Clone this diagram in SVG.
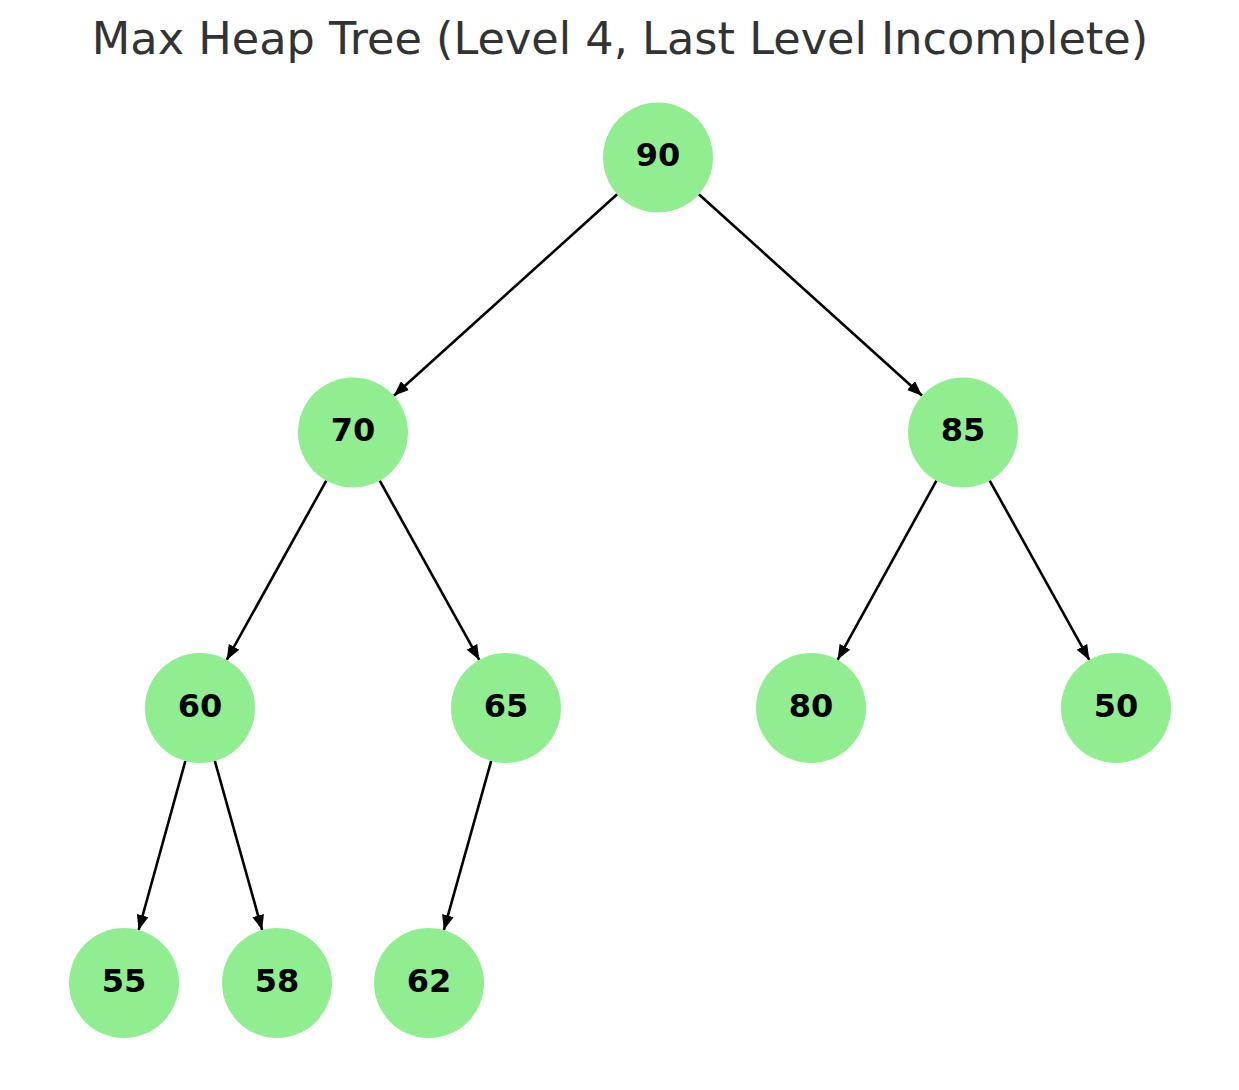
<svg xmlns="http://www.w3.org/2000/svg" width="1239" height="1090" viewBox="0 0 1239 1090">
<style>
.node circle{fill:#90EE90;}
.node text{font-family:"DejaVu Sans",sans-serif;font-weight:bold;font-size:32px;fill:#000;text-anchor:middle;}
.edge{stroke:#000;stroke-width:2.6;fill:none;marker-end:url(#arrow);}
.title{font-family:"DejaVu Sans",sans-serif;font-size:44.6px;fill:#333333;text-anchor:middle;}
</style>
<defs>
<marker id="arrow" viewBox="0 0 15 12" refX="15" refY="6" markerWidth="15" markerHeight="12" markerUnits="userSpaceOnUse" orient="auto">
<path d="M0,0 L15,6 L0,12 z" fill="#000"/>
</marker>
</defs>
<rect width="1239" height="1090" fill="#fff"/>
<text class="title" x="620" y="54">Max Heap Tree (Level 4, Last Level Incomplete)</text>
<g id="edges">
<line class="edge" x1="617.15" y1="194.33" x2="393.85" y2="395.67"/>
<line class="edge" x1="698.85" y1="194.33" x2="922.15" y2="395.67"/>
<line class="edge" x1="326.30" y1="480.58" x2="226.70" y2="659.92"/>
<line class="edge" x1="379.70" y1="480.58" x2="479.30" y2="659.92"/>
<line class="edge" x1="936.43" y1="480.66" x2="837.57" y2="659.84"/>
<line class="edge" x1="989.70" y1="480.58" x2="1089.30" y2="659.92"/>
<line class="edge" x1="185.35" y1="761.01" x2="138.65" y2="929.99"/>
<line class="edge" x1="214.83" y1="760.96" x2="262.17" y2="930.04"/>
<line class="edge" x1="491.17" y1="760.96" x2="443.83" y2="930.04"/>
</g>
<g id="n90" class="node"><circle cx="658" cy="157.5" r="55"/><text x="658" y="166">90</text></g>
<g id="n70" class="node"><circle cx="353" cy="432.5" r="55"/><text x="353" y="441">70</text></g>
<g id="n85" class="node"><circle cx="963" cy="432.5" r="55"/><text x="963" y="441">85</text></g>
<g id="n60" class="node"><circle cx="200" cy="708" r="55"/><text x="200" y="716.5">60</text></g>
<g id="n65" class="node"><circle cx="506" cy="708" r="55"/><text x="506" y="716.5">65</text></g>
<g id="n80" class="node"><circle cx="811" cy="708" r="55"/><text x="811" y="716.5">80</text></g>
<g id="n50" class="node"><circle cx="1116" cy="708" r="55"/><text x="1116" y="716.5">50</text></g>
<g id="n55" class="node"><circle cx="124" cy="983" r="55"/><text x="124" y="991.5">55</text></g>
<g id="n58" class="node"><circle cx="277" cy="983" r="55"/><text x="277" y="991.5">58</text></g>
<g id="n62" class="node"><circle cx="429" cy="983" r="55"/><text x="429" y="991.5">62</text></g>
</svg>
